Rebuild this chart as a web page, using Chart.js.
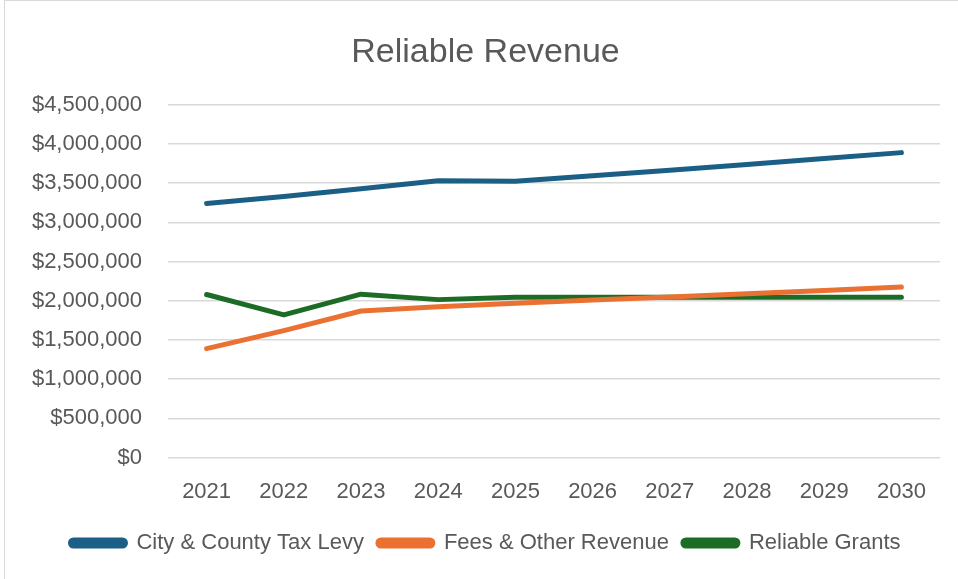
<!DOCTYPE html>
<html>
<head>
<meta charset="utf-8">
<script src="https://cdn.jsdelivr.net/npm/chart.js@4.4.1/dist/chart.umd.min.js"></script>
<style>
  html, body { margin: 0; padding: 0; background: #ffffff; }
  #frame {
    position: absolute; left: 4px; top: 0px;
    width: 960px; height: 585px;
    border: 1px solid #d9d9d9; box-sizing: border-box;
  }
  #chartWrap { position: absolute; left: 0; top: 0; width: 954px; height: 579px; }
</style>
</head>
<body>
<div id="frame">
  <div id="chartWrap"><canvas id="revenueChart"></canvas></div>
</div>
<script>
// Years on the x axis
const years = ['2021', '2022', '2023', '2024', '2025', '2026', '2027', '2028', '2029', '2030'];

// Series values (dollars)
const taxLevy = [3240000, 3330000, 3430000, 3530000, 3525000, 3595000, 3665000, 3740000, 3815000, 3890000];
const feesOther = [1390000, 1620000, 1870000, 1925000, 1970000, 2010000, 2050000, 2090000, 2130000, 2175000];
const grants = [2080000, 1820000, 2085000, 2015000, 2045000, 2045000, 2045000, 2045000, 2045000, 2045000];

// Y axis range
const yMin = 0;
const yMax = 4500000;
const yStep = 500000;

const textGray = '#595959';
const fontFamily = '"Liberation Sans", Arial, sans-serif';

function formatDollars(value) {
  return '$' + Number(value).toLocaleString('en-US');
}

function renderRevenueChart() {
  const ctx = document.getElementById('revenueChart').getContext('2d');

  const lineStyle = { borderWidth: 5, pointRadius: 0, tension: 0, borderCapStyle: 'round', borderJoinStyle: 'round', fill: false };

  new Chart(ctx, {
    type: 'line',
    data: {
      labels: years,
      datasets: [
        Object.assign({ label: 'City & County Tax Levy', data: taxLevy, borderColor: '#1b5f86', backgroundColor: '#1b5f86' }, lineStyle),
        Object.assign({ label: 'Fees & Other Revenue', data: feesOther, borderColor: '#ea7131', backgroundColor: '#ea7131' }, lineStyle),
        Object.assign({ label: 'Reliable Grants', data: grants, borderColor: '#1c6c26', backgroundColor: '#1c6c26' }, lineStyle)
      ]
    },
    options: {
      responsive: true,
      maintainAspectRatio: false,
      animation: false,
      layout: { padding: { left: 26, right: 19, top: 10, bottom: 16 } },
      scales: {
        x: {
          offset: true,
          grid: { display: false },
          border: { display: false },
          ticks: { color: textGray, font: { family: fontFamily, size: 22 }, padding: 13 }
        },
        y: {
          min: yMin,
          max: yMax,
          // fixed axis width so the plot area starts where the reference does
          afterFit: function(scale) { scale.width = 137; },
          ticks: {
            stepSize: yStep,
            color: textGray,
            font: { family: fontFamily, size: 22 },
            padding: 26,
            callback: formatDollars
          },
          grid: { color: '#d9d9d9', lineWidth: 1.5, drawTicks: false },
          border: { display: false }
        }
      },
      plugins: {
        title: {
          display: true,
          text: 'Reliable Revenue',
          color: textGray,
          font: { family: fontFamily, size: 34, weight: 'normal' },
          padding: { top: 21, bottom: 32 }
        },
        legend: {
          position: 'bottom',
          labels: {
            color: textGray,
            font: { family: fontFamily, size: 22 },
            boxWidth: 55,
            boxHeight: 6,
            useBorderRadius: true,
            borderRadius: 3,
            padding: 14
          }
        },
        tooltip: { enabled: false }
      }
    }
  });
}

document.addEventListener('DOMContentLoaded', function() {
  renderRevenueChart();
});
</script>
</body>
</html>
